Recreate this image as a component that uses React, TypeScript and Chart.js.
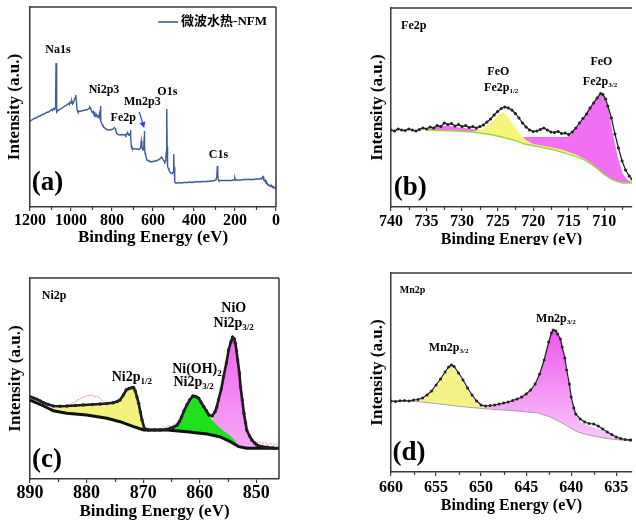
import React, { useEffect, useRef } from 'react';
import { Chart, registerables } from 'chart.js';

Chart.register(...registerables);

const SERIF = "'Liberation Serif', 'Times New Roman', serif";
const CJK = "'Liberation Serif', 'Noto Sans CJK SC', serif";

type P = [number, number | null];

// ---------------- (a) survey ----------------
const surveySeriesName = '微波水热-NFM';
const surveyPoints: P[] = [
  [1200, 86], [1190, 87], [1180, 88.5], [1170, 89], [1160, 90.5], [1150, 91], [1140, 92.5], [1130, 93], [1120, 94.5],
  [1110, 95], [1100, 96.5], [1095, 97.5], [1090, 96.5], [1085, 98.5], [1080, 97.5], [1077, 99], [1075, 104], [1073, 144],
  [1071, 110], [1069, 95], [1065, 96.5], [1060, 97], [1050, 98], [1040, 99.5], [1030, 101], [1020, 102], [1012, 103.5],
  [1008, 102.5], [1004, 105], [1000, 104], [996, 106], [992, 103], [988, 104.5], [984, 107], [980, 109], [977, 112],
  [974, 106], [970, 97], [966, 95], [960, 95.5], [950, 96], [940, 96.5], [930, 97], [920, 97.5], [912, 98.5], [908, 100],
  [904, 99], [900, 96], [896, 94.5], [892, 95.5], [888, 93], [884, 94], [880, 91], [876, 92.5], [872, 90], [868, 91],
  [864, 89.5], [861, 93], [858, 96], [856, 101], [854, 86], [851, 84], [848, 82.5], [844, 81], [840, 80], [835, 79],
  [830, 78], [825, 77.5], [820, 77], [810, 77], [800, 77.5], [792, 78.5], [788, 79.5], [785, 78.5], [782, 77], [778, 74],
  [770, 72.5], [760, 72], [750, 72.5], [740, 72], [735, 72.5], [732, 71.5], [728, 73], [724, 74.5], [720, 72], [716, 72],
  [712, 73.5], [710, 77], [708, 70], [706, 61], [703, 59], [700, 58.5], [690, 58], [680, 58], [670, 57.5], [664, 58],
  [660, 60], [657, 66], [654, 60], [650, 57], [647, 57.5], [645, 60], [643, 70], [642, 76], [641, 62], [639, 54], [636, 52],
  [630, 47], [620, 46], [610, 45], [600, 45.5], [590, 46], [580, 46.5], [570, 47.5], [562, 49], [558, 50], [554, 48.5],
  [550, 47], [546, 46], [542, 45], [538, 46], [535, 55], [533, 98], [531, 60], [529, 41], [526, 39], [522, 37], [518, 35],
  [514, 34], [510, 33.5], [506, 33.5], [502, 35], [499, 53], [497, 40], [495, 30], [493, 25], [490, 24], [480, 24],
  [470, 24.5], [460, 24], [450, 24.5], [440, 24.5], [430, 24.5], [420, 25], [410, 24.5], [400, 25], [390, 25], [380, 25.5],
  [370, 25], [360, 25.5], [350, 25.5], [340, 25.5], [330, 25.5], [320, 26], [310, 26], [300, 26.5], [293, 27], [289, 30],
  [286, 41], [284, 34], [282, 27.5], [279, 26.5], [270, 26.5], [260, 26.5], [250, 26.5], [240, 26.5], [230, 26.5],
  [220, 26.5], [210, 27], [204, 27], [201, 29], [198, 27], [194, 27], [190, 27], [180, 27], [170, 27], [160, 27.5],
  [150, 27.5], [140, 27.5], [130, 27.5], [120, 27.5], [110, 27.5], [100, 28], [90, 28], [80, 28], [74, 28.5], [70, 28],
  [66, 30], [63, 30.5], [60, 27], [56, 26], [52, 27], [48, 23.5], [44, 24], [40, 22], [36, 22.5], [32, 21], [28, 21.5],
  [24, 20.5], [20, 21], [16, 19.5], [12, 20.5], [8, 19], [4, 18.5], [0, 18],
];
const surveyMajorTicks = [0, 200, 400, 600, 800, 1000, 1200];
const surveyMinorTicks = [100, 300, 500, 700, 900, 1100];
const surveyLabels = [
  { x: 1064, y: 157, text: 'Na1s', size: 12 },
  { x: 839, y: 117, text: 'Ni2p3', size: 12 },
  { x: 652, y: 105, text: 'Mn2p3', size: 12 },
  { x: 745, y: 89, text: 'Fe2p', size: 12 },
  { x: 530, y: 115, text: 'O1s', size: 12 },
  { x: 281, y: 52, text: 'C1s', size: 12 },
  { x: 1115, y: 24, text: '(a)', size: 27 },
];
const surveyArrow = { from: [667, 95] as [number, number], to: [643, 79] as [number, number] };

// ---------------- (b) Fe2p ----------------
const feRaw: P[] = [
  [740, 77], [739.5, 76], [739, 78], [738.5, 77], [738, 76.5], [737.5, 78], [737, 77], [736.5, 76], [736, 77.5],
  [735.5, 79], [735, 78], [734.5, 80], [734, 79], [733.5, 81.5], [733, 80.5], [732.5, 84], [732, 82.5], [731.5, 83.5],
  [731, 81], [730.5, 82.5], [730, 80.5], [729.5, 81.5], [729, 79.5], [728.5, 80.5], [728, 79], [727.5, 80.5], [727, 82],
  [726.5, 85], [726, 88], [725.5, 92], [725, 95.5], [724.5, 98.5], [724, 100], [723.5, 99], [723, 97], [722.5, 93.5],
  [722, 89], [721.5, 84], [721, 80], [720.5, 77], [720, 75.5], [719.5, 76], [719, 77.5], [718.5, 79], [718, 77],
  [717.5, 75], [717, 74.5], [716.5, 75.5], [716, 73.5], [715.5, 74], [715, 72.5], [714.5, 75], [714, 79], [713.5, 84],
  [713, 88.5], [712.5, 93], [712, 99], [711.5, 104], [711, 109], [710.5, 113.5], [710.2, 112.5], [709.8, 108],
  [709.5, 101], [709, 89], [708.5, 73], [708, 59], [707.5, 46], [707, 37], [706.5, 31], [706.1, 28],
];
const feBackground: P[] = [
  [735, 77], [731, 76], [728.6, 75], [726, 72.5], [724.4, 70], [722.5, 66.5], [721.2, 63], [719, 60], [717, 57],
  [715.5, 54], [713.8, 50], [712.8, 47], [712, 43.5], [711, 38.5], [710.1, 33], [709.5, 30], [708.8, 27], [708, 25],
  [707.4, 24], [706.1, 24],
];
const feYellow: P[] = [
  [728.6, 75], [727.2, 78], [725.8, 85], [724.9, 92], [724.2, 95], [723.5, 90], [722.6, 80], [721.7, 72], [721, 67],
  [720, 63], [718, 60.5], [716, 57.5], [714, 52.5], [712.5, 47], [711.5, 42], [711, 38.5],
];
const fePink: P[] = [
  [735, 77], [734.6, 78], [733.2, 81], [731.8, 81], [730.4, 79.5], [728.6, 78], [727.2, 77], [725, 74.5], [723, 72],
  [721.4, 70], [719.4, 70], [717, 70], [715.2, 70], [714.7, 72], [713.8, 80], [712.9, 90], [712, 100], [711.1, 110],
  [710.5, 115], [710.1, 112], [709.4, 97], [708.8, 73], [708.1, 50], [707.4, 33], [706.7, 27], [706.1, 25],
];
const feMajorTicks = [710, 715, 720, 725, 730, 735, 740];
const feMinorTicks = [707.5, 712.5, 717.5, 722.5, 727.5, 732.5, 737.5];
const feLabels = [
  { x: 736.8, y: 181, text: 'Fe2p', size: 12 },
  { x: 724.9, y: 135, text: 'FeO', size: 12 },
  { x: 724.5, y: 119, text: 'Fe2p', sub: '1/2', size: 12 },
  { x: 710.4, y: 145, text: 'FeO', size: 12 },
  { x: 710.6, y: 125, text: 'Fe2p', sub: '3/2', size: 12 },
  { x: 737.3, y: 19, text: '(b)', size: 27 },
];

// ---------------- (c) Ni2p ----------------
const niRaw: P[] = [
  [890, 82.3], [889.4, 81], [888.8, 79.7], [888.2, 78], [887.6, 76.3], [886.8, 74.5], [885.9, 73], [884.7, 72.8],
  [883.5, 73], [882, 73.5], [880.6, 74], [879, 74.5], [877.6, 75], [876.4, 75.5], [875.3, 76.3], [874.6, 77.5],
  [874.1, 79], [873.5, 84], [873, 89], [872.5, 90.5], [872, 91.3], [871.7, 91.5], [871.4, 88], [871.1, 82], [870.8, 75.7],
  [870.5, 67], [870.2, 59], [869.8, 50.7], [869.1, 49], [868, 49], [867, 49], [866, 49.5], [865.2, 50.7], [864.6, 52],
  [864, 54], [863.6, 57.5], [863.2, 62.3], [862.8, 68], [862.3, 74], [861.8, 79], [861.2, 83], [860.7, 82.5],
  [860.2, 80.7], [859.8, 77], [859.3, 72.3], [858.8, 68], [858.4, 64], [857.8, 63], [857.3, 67.3], [857, 72],
  [856.7, 79], [856.2, 90], [855.8, 102.3], [855.3, 116], [854.9, 129], [854.5, 137], [854.2, 141.7], [853.9, 140],
  [853.7, 135.7], [853.5, 128], [853.3, 119], [853, 106], [852.8, 92.3], [852.5, 79], [852.2, 65.7], [851.9, 56],
  [851.7, 49], [851.2, 43], [850.8, 39], [850.3, 36], [849.9, 34], [849, 32.5], [848.1, 31.7], [847, 31], [846, 30.7],
];
const niBackground: P[] = [
  [890, 79], [888.8, 76], [887.6, 73], [886.7, 70.5], [885.9, 68.3], [883.5, 65.7], [880, 64], [876.4, 60.7],
  [874.1, 57.3], [871.7, 52.3], [869.9, 49], [865.8, 49], [862.3, 47.3], [858.7, 45], [856.5, 42.3], [854.6, 37.3],
  [853.1, 32.3], [851.7, 30.7], [846, 30.7],
];
const niResidual: P[] = [
  [884, 73], [883, 74], [882, 77.5], [881, 81], [880, 83], [879, 84], [878.5, 82], [878, 83], [877.5, 80], [877, 77],
  [876.5, 76], [876, null], [867, 49.5], [866.5, 52.5], [866, 51], [865.5, 54], [865, 52], [864.5, 55], [864, 56],
  [863.8, null], [850.5, 37.5], [850, 36.5], [849.5, 37], [849, 35.5], [848.5, 36.5], [848, 34.5], [847.5, 35.5],
  [847, 34], [846.5, 35], [846, 33.5],
];
const niYellow: P[] = [
  [886.5, 69.8], [885.9, 72], [884.7, 72.3], [883.5, 72.5], [880.6, 73.5], [877.6, 74.5], [875.3, 76], [874.6, 77],
  [874.1, 78.5], [873.5, 83.5], [873, 88.5], [872.5, 90], [872, 90.8], [871.7, 91], [871.4, 87.5], [871.1, 81.5],
  [870.8, 75], [870.5, 66.5], [870.2, 58.5], [869.9, 50], [869.6, 49],
];
const niGreen: P[] = [
  [866.5, 49], [866, 49.5], [865.2, 50.5], [864.6, 51.8], [864, 53.5], [863.6, 57], [863.2, 62], [862.8, 67.5],
  [862.3, 73.5], [861.8, 78.5], [861.2, 82.5], [860.7, 82], [860.2, 80], [859.8, 76.5], [859.3, 72], [858.8, 67.5],
  [858.4, 63.5], [857.8, 59], [857, 54], [856, 49], [855, 45], [854, 40], [853.5, 36], [853, 32.5],
];
const niPink: P[] = [
  [859, 45], [858.4, 50], [857.8, 58], [857.3, 66], [856.7, 78.5], [856.2, 89.5], [855.8, 102], [855.3, 115.5],
  [854.9, 128.5], [854.5, 136.5], [854.2, 141], [853.9, 139.5], [853.7, 135], [853.5, 127.5], [853.3, 118.5],
  [853, 105.5], [852.8, 92], [852.5, 78.5], [852.2, 65], [851.9, 55.5], [851.7, 48.5], [851.2, 42.5], [850.8, 38.5],
  [850.3, 35.5], [849.9, 33.5], [849, 31.5], [848, 30.7],
];
const niMajorTicks = [850, 860, 870, 880, 890];
const niMinorTicks = [855, 865, 875, 885];
const niLabels = [
  { x: 885.75, y: 183, text: 'Ni2p', size: 12 },
  { x: 854, y: 171, text: 'NiO', size: 14 },
  { x: 854, y: 156, text: 'Ni2p', sub: '3/2', size: 14 },
  { x: 860.5, y: 110, text: 'Ni(OH)', sub: '2', size: 14 },
  { x: 861.1, y: 97, text: 'Ni2p', sub: '3/2', size: 14 },
  { x: 872, y: 102, text: 'Ni2p', sub: '1/2', size: 14 },
  { x: 887, y: 19, text: '(c)', size: 27 },
];

// ---------------- (d) Mn2p ----------------
const mnRaw: P[] = [
  [660, 71], [659.5, 70.5], [659, 71.2], [658.5, 71.5], [658, 71], [657.5, 72], [657, 72.5], [656.5, 74], [656, 77],
  [655.5, 81], [655, 87], [654.5, 93], [654, 100], [653.6, 105], [653.3, 107], [653, 105.5], [652.5, 99], [652, 92],
  [651.5, 84], [651, 77], [650.5, 71], [650, 67], [649.5, 66], [649, 66.5], [648.5, 67], [648, 68], [647.5, 69],
  [647, 70], [646.5, 71.5], [646, 73], [645.5, 75], [645, 78], [644.5, 82], [644, 88], [643.5, 98], [643, 112],
  [642.5, 130], [642.2, 139], [642, 142], [641.7, 141], [641.5, 138], [641.2, 133], [641, 125], [640.7, 114],
  [640.5, 102], [640.2, 88], [640, 75], [639.7, 64], [639.5, 58], [639, 53], [638.5, 50], [638, 48.5], [637.5, 48],
  [637, 46], [636.5, 43], [636, 40], [635.5, 37.5], [635, 35], [634.5, 33.5], [634, 32.5], [633.5, 32], [633.25, 32],
];
const mnBackground: P[] = [
  [660, 71], [657, 70.5], [654.6, 68], [651.7, 65], [649.2, 63], [646, 61], [643.7, 59], [642.3, 55], [640.8, 48],
  [639.3, 40], [637.9, 36.7], [636.4, 34], [634.3, 31.7], [633.25, 31.5],
];
const mnYellow: P[] = [
  [657, 70.5], [656.5, 72.5], [656, 75], [655.5, 79], [655, 85], [654.5, 91.5], [654, 98], [653.6, 103], [653.3, 105],
  [653, 103.5], [652.5, 97], [652, 90], [651.5, 82], [651, 75], [650.5, 68], [650, 65.5], [649.5, 64.5], [648.5, 63],
];
const mnPink: P[] = [
  [650.5, 65.2], [650, 66], [649, 66], [648, 67.5], [647, 69.5], [646, 72.5], [645, 77.5], [644.5, 81.5], [644, 87],
  [643.5, 97], [643, 111], [642.5, 129], [642.2, 138], [642, 141], [641.7, 140], [641.5, 137], [641.2, 132], [641, 124],
  [640.7, 113], [640.5, 101], [640.2, 87], [640, 74], [639.7, 63], [639.5, 57], [639, 50], [638, 46], [637, 43],
  [636, 39], [635, 35], [634, 32.5], [633.25, 31.8],
];
const mnMajorTicks = [635, 640, 645, 650, 655, 660];
const mnMinorTicks = [637.5, 642.5, 647.5, 652.5, 657.5];
const mnLabels = [
  { x: 657.6, y: 182, text: 'Mn2p', size: 10 },
  { x: 641.7, y: 153, text: 'Mn2p', sub: '3/2', size: 12 },
  { x: 653.6, y: 124, text: 'Mn2p', sub: '3/2', size: 12 },
  { x: 658, y: 19, text: '(d)', size: 27 },
];

// ---------------- helpers ----------------
const toXY = (a: P[]) => a.map(([x, y]) => ({ x, y }));

const decorPlugin = {
  id: 'xpsDecor',
  afterDraw(chart: any, _args: any, opts: any) {
    const { ctx, chartArea, scales } = chart;
    const xs = scales.x;
    const ys = scales.y;
    const { left, right, top, bottom } = chartArea;
    ctx.save();
    // frame (top + optional right)
    ctx.strokeStyle = '#3a3a3a';
    ctx.lineWidth = 1.5;
    ctx.beginPath();
    ctx.moveTo(left, top);
    ctx.lineTo(right, top);
    if (opts.rightBorder) {
      ctx.moveTo(right, top);
      ctx.lineTo(right, bottom);
    }
    ctx.stroke();
    // minor ticks
    ctx.lineWidth = 1.2;
    ctx.beginPath();
    (opts.minor || []).forEach((v: number) => {
      const px = Math.round(xs.getPixelForValue(v)) + 0.5;
      ctx.moveTo(px, bottom);
      ctx.lineTo(px, bottom + 3);
    });
    ctx.stroke();
    // labels
    ctx.fillStyle = '#000';
    ctx.textBaseline = 'middle';
    ctx.textAlign = 'left';
    (opts.labels || []).forEach((a: any) => {
      const px = xs.getPixelForValue(a.x);
      const py = ys.getPixelForValue(a.y);
      const mainFont = `bold ${a.size}px ${SERIF}`;
      const subFont = `bold ${Math.round(a.size * 0.62)}px ${SERIF}`;
      ctx.font = mainFont;
      const wMain = ctx.measureText(a.text).width;
      let wSub = 0;
      if (a.sub) {
        ctx.font = subFont;
        wSub = ctx.measureText(a.sub).width;
      }
      const x0 = px - (wMain + wSub) / 2;
      ctx.font = mainFont;
      ctx.fillText(a.text, x0, py);
      if (a.sub) {
        ctx.font = subFont;
        ctx.fillText(a.sub, x0 + wMain, py + a.size * 0.3);
      }
    });
    // legend (series name with its line sample), top-right inside the plot
    if (opts.legend) {
      const ds = chart.data.datasets[0];
      ctx.font = `bold 13px ${CJK}`;
      const tw = ctx.measureText(ds.label).width;
      const tx = right - 9 - tw;
      const ly = top + 15;
      ctx.fillStyle = '#000';
      ctx.fillText(ds.label, tx, ly);
      ctx.strokeStyle = ds.borderColor;
      ctx.lineWidth = 1.6;
      ctx.beginPath();
      ctx.moveTo(tx - 23, ly);
      ctx.lineTo(tx - 3, ly);
      ctx.stroke();
    }
    // arrow
    if (opts.arrow) {
      const x1 = xs.getPixelForValue(opts.arrow.from[0]);
      const y1 = ys.getPixelForValue(opts.arrow.from[1]);
      const x2 = xs.getPixelForValue(opts.arrow.to[0]);
      const y2 = ys.getPixelForValue(opts.arrow.to[1]);
      const ang = Math.atan2(y2 - y1, x2 - x1);
      ctx.strokeStyle = '#2a3ff0';
      ctx.fillStyle = '#2a3ff0';
      ctx.lineWidth = 1.2;
      ctx.beginPath();
      ctx.moveTo(x1, y1);
      ctx.lineTo(x2 - 4 * Math.cos(ang), y2 - 4 * Math.sin(ang));
      ctx.stroke();
      ctx.beginPath();
      ctx.moveTo(x2, y2);
      ctx.lineTo(x2 - 6 * Math.cos(ang) + 3 * Math.sin(ang), y2 - 6 * Math.sin(ang) - 3 * Math.cos(ang));
      ctx.lineTo(x2 - 6 * Math.cos(ang) - 3 * Math.sin(ang), y2 - 6 * Math.sin(ang) + 3 * Math.cos(ang));
      ctx.closePath();
      ctx.fill();
    }
    ctx.restore();
  },
};

interface PanelSpec {
  xMin: number;
  xMax: number;
  yMax: number;
  majors: number[];
  minors: number[];
  tickSize: number;
  tickPad: number;
  titleSize: number;
  titlePadBottom: number;
  yTitlePad: number;
  yWidth: number;
  xHeight: number;
  padding: { top: number; right: number; left: number; bottom: number };
  datasets: any[];
  labels: any[];
  rightBorder: boolean;
  legend?: boolean;
  arrow?: any;
}

function buildConfig(s: PanelSpec): any {
  return {
    type: 'line',
    data: { datasets: s.datasets },
    plugins: [decorPlugin],
    options: {
      responsive: false,
      animation: false,
      devicePixelRatio: 1,
      events: [],
      layout: { padding: s.padding },
      elements: { line: { tension: 0 } },
      scales: {
        x: {
          type: 'linear',
          reverse: true,
          min: s.xMin,
          max: s.xMax,
          afterBuildTicks: (axis: any) => {
            axis.ticks = s.majors.map((v) => ({ value: v }));
          },
          afterFit: (axis: any) => {
            axis.height = s.xHeight;
          },
          ticks: {
            callback: (v: any) => String(v),
            font: { family: SERIF, size: s.tickSize, weight: 'bold' },
            color: '#000',
            padding: s.tickPad,
            maxRotation: 0,
            autoSkip: false,
          },
          grid: { drawOnChartArea: false, drawTicks: true, tickLength: 4, color: '#3a3a3a', lineWidth: 1.2 },
          border: { display: true, color: '#3a3a3a', width: 1.5 },
          title: {
            display: true,
            text: 'Binding Energy (eV)',
            color: '#000',
            font: { family: SERIF, size: s.titleSize, weight: 'bold' },
            padding: { top: 0, bottom: s.titlePadBottom },
          },
        },
        y: {
          type: 'linear',
          min: 0,
          max: s.yMax,
          afterFit: (axis: any) => {
            axis.width = s.yWidth;
          },
          ticks: { display: false },
          grid: { display: false },
          border: { display: true, color: '#3a3a3a', width: 1.5 },
          title: {
            display: true,
            text: 'Intensity (a.u.)',
            color: '#000',
            font: { family: SERIF, size: 17, weight: 'bold' },
            padding: { top: s.yTitlePad, bottom: 0 },
          },
        },
      },
      plugins: {
        legend: { display: false },
        tooltip: { enabled: false },
        xpsDecor: { labels: s.labels, minor: s.minors, rightBorder: s.rightBorder, arrow: s.arrow, legend: !!s.legend },
      },
    },
  };
}

const rawStyle = (width: number, radius: number) => ({
  borderColor: '#1a1a1a',
  borderWidth: width,
  pointRadius: radius,
  pointBackgroundColor: '#222',
  pointBorderWidth: 0,
  fill: false,
});

const fitStyle = (color: any) => ({
  borderWidth: 0,
  borderColor: 'rgba(0,0,0,0)',
  pointRadius: 0,
  backgroundColor: color,
  fill: 1,
});

const pinkGradient = (top: number, bottom: number, c1: string, c2: string) => (c: any) => {
  const ch = c.chart;
  const area = ch.chartArea;
  if (!area) return c1;
  const g = ch.ctx.createLinearGradient(0, area.top + top, 0, area.top + bottom);
  g.addColorStop(0, c1);
  g.addColorStop(1, c2);
  return g;
};

const specA: PanelSpec = {
  xMin: 0, xMax: 1200, yMax: 200,
  majors: surveyMajorTicks, minors: surveyMinorTicks,
  tickSize: 16, tickPad: 0, titleSize: 17, titlePadBottom: 4.5,
  yTitlePad: 4.8, yWidth: 30, xHeight: 45,
  padding: { top: 7, right: 24, left: 0, bottom: 0 },
  datasets: [
    { label: surveySeriesName, data: toXY(surveyPoints), borderColor: '#3f5b97', borderWidth: 1.4, pointRadius: 0, fill: false },
  ],
  labels: surveyLabels,
  rightBorder: true,
  legend: true,
  arrow: surveyArrow,
};

const specB: PanelSpec = {
  xMin: 706.1, xMax: 740, yMax: 199,
  majors: feMajorTicks, minors: feMinorTicks,
  tickSize: 16, tickPad: 1, titleSize: 16, titlePadBottom: 11,
  yTitlePad: 27.3, yWidth: 51, xHeight: 53,
  padding: { top: 8, right: 0, left: 0, bottom: 0 },
  datasets: [
    { label: 'raw', data: toXY(feRaw), ...rawStyle(1.2, 1.6) },
    { label: 'bg', data: toXY(feBackground), borderColor: '#8fdc3c', borderWidth: 1.3, pointRadius: 0, fill: false },
    { label: 'yellow', data: toXY(feYellow), ...fitStyle('#f7f47e') },
    { label: 'pink', data: toXY(fePink), ...fitStyle('#f26ef2') },
  ],
  labels: feLabels,
  rightBorder: false,
};

const specC: PanelSpec = {
  xMin: 846, xMax: 890, yMax: 201,
  majors: niMajorTicks, minors: niMinorTicks,
  tickSize: 18, tickPad: 0, titleSize: 17, titlePadBottom: 13,
  yTitlePad: 5.3, yWidth: 30, xHeight: 56,
  padding: { top: 18, right: 21, left: 0, bottom: 0 },
  datasets: [
    { label: 'raw', data: toXY(niRaw), ...rawStyle(2.6, 1.7) },
    { label: 'bg', data: toXY(niBackground), borderColor: '#111', borderWidth: 3, pointRadius: 0, fill: false },
    { label: 'res', data: toXY(niResidual), borderColor: '#f08080', borderWidth: 1, borderDash: [2, 1], pointRadius: 0, fill: false, spanGaps: false },
    { label: 'yellow', data: toXY(niYellow), ...fitStyle('#f3f17c') },
    { label: 'green', data: toXY(niGreen), ...fitStyle('#1fe01f') },
    { label: 'pink', data: toXY(niPink), ...fitStyle(pinkGradient(60, 190, '#f064f0', '#f7b4f7')) },
  ],
  labels: niLabels,
  rightBorder: true,
};

const specD: PanelSpec = {
  xMin: 633.25, xMax: 660, yMax: 199,
  majors: mnMajorTicks, minors: mnMinorTicks,
  tickSize: 16, tickPad: 2, titleSize: 16, titlePadBottom: 20,
  yTitlePad: 27.3, yWidth: 51, xHeight: 63,
  padding: { top: 13, right: 0, left: 0, bottom: 0 },
  datasets: [
    { label: 'raw', data: toXY(mnRaw), ...rawStyle(1.2, 1.5) },
    { label: 'bg', data: toXY(mnBackground), borderColor: '#aa9caa', borderWidth: 1, pointRadius: 0, fill: false },
    { label: 'yellow', data: toXY(mnYellow), ...fitStyle('#f5f385') },
    { label: 'pink', data: toXY(mnPink), ...fitStyle(pinkGradient(60, 180, '#ee58ee', '#fbd6fb')) },
  ],
  labels: mnLabels,
  rightBorder: false,
};

function Panel(props: { left: number; top: number; w: number; h: number; cw: number; ch: number; spec: PanelSpec }) {
  const ref = useRef<HTMLCanvasElement>(null);
  useEffect(() => {
    const chart = new Chart(ref.current as HTMLCanvasElement, buildConfig(props.spec));
    return () => chart.destroy();
  }, []);
  return (
    <div style={{ position: 'absolute', left: props.left, top: props.top, width: props.w, height: props.h, overflow: 'hidden' }}>
      <canvas ref={ref} width={props.cw} height={props.ch} style={{ display: 'block', width: props.cw, height: props.ch }} />
    </div>
  );
}

export default function App() {
  return (
    <div style={{ position: 'absolute', left: 0, top: 0, width: 636, height: 520, overflow: 'hidden', background: '#fff' }}>
      <Panel left={0} top={0} w={300} h={252} cw={300} ch={252} spec={specA} />
      <Panel left={340} top={0} w={296} h={245} cw={296} ch={260} spec={specB} />
      <Panel left={0} top={260} w={300} h={260} cw={300} ch={275} spec={specC} />
      <Panel left={340} top={260} w={296} h={260} cw={296} ch={275} spec={specD} />
    </div>
  );
}
